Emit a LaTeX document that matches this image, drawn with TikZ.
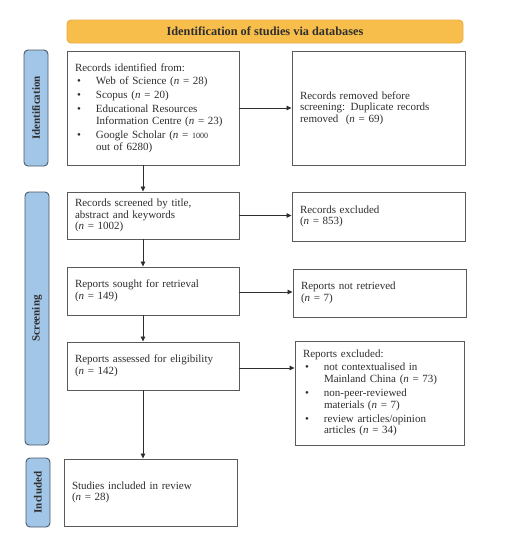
\documentclass[tikz,border=0pt]{standalone}
\usepackage{fontspec}
\setmainfont{Liberation Serif}
\usetikzlibrary{arrows.meta}
\setlength\parindent{0pt}
\definecolor{txt}{HTML}{2E2E2E}
\definecolor{edge}{HTML}{5A5A5A}
\definecolor{bannerfill}{HTML}{F8BE4C}
\definecolor{banneredge}{HTML}{E9AC45}
\definecolor{sidefill}{HTML}{A2C6E8}
\definecolor{sideedge}{HTML}{4A5868}
\newcommand\bul[1]{{\hangindent=21pt\hangafter=1\hspace*{2pt}\makebox[19pt][l]{\textbullet}#1\par}}
\tikzset{
  box/.style={draw=edge, line width=0.9pt, fill=white, text=txt, align=left,
    inner xsep=8pt, inner ysep=2pt, font=\fontsize{11}{11.6}\selectfont},
  sidelab/.style={draw=sideedge, line width=0.9pt, fill=sidefill, rounded corners=4pt,
    text=txt, font=\fontsize{11}{12}\selectfont\bfseries},
  arr/.style={draw=txt, line width=0.8pt, -{Triangle[length=5pt,width=4.5pt]}},
}
\begin{document}
\begin{tikzpicture}[x=1pt,y=-1pt]
\useasboundingbox (0,0) rectangle (506,550);
% banner
\node[draw=banneredge, line width=0.9pt, fill=bannerfill, rounded corners=4pt,
  minimum width=396pt, minimum height=23pt, text=txt,
  font=\fontsize{12.3}{14}\selectfont\bfseries] (banner) at (265,31.5)
  {Identification of studies via databases};
% side labels
\node[sidelab, minimum width=116pt, minimum height=24pt, rotate=90] (sid) at (36,108) {Identification};
\node[sidelab, minimum width=253pt, minimum height=24pt, rotate=90] (sscr) at (37,318.5) {Screening};
\node[sidelab, minimum width=69pt, minimum height=24pt, rotate=90] (sinc) at (38,492.5) {Included};
% boxes
\node[box, minimum height=114pt, text width=156pt] (b1) at (153,108) {%
Records identified from:\par\vspace{1.5pt}
\bul{Web of Science (\textit{n} = 28)}\vspace{2.5pt}
\bul{Scopus (\textit{n} = 20)}\vspace{2.5pt}
\bul{Educational Resources\newline Information Centre (\textit{n} = 23)}\vspace{2.5pt}
\bul{Google Scholar (\textit{n} = {\fontsize{8}{10}\selectfont 1000}\newline out of 6280)}};
\node[box, minimum height=114pt, text width=157pt] (b2) at (378.5,108) {%
Records removed before\newline screening: Duplicate records\newline removed~ (\textit{n} = 69)};
\node[box, minimum height=47pt, text width=156pt] (b3) at (153,215.5) {%
Records screened by title,\newline abstract and keywords\newline (\textit{n} = 1002)};
\node[box, minimum height=49pt, text width=157pt] (b4) at (378.5,216.5) {%
Records excluded\newline (\textit{n} = 853)};
\node[box, minimum height=48pt, text width=156pt] (b5) at (153,291) {%
Reports sought for retrieval\newline (\textit{n} = 149)};
\node[box, minimum height=48pt, text width=157pt] (b6) at (379.5,293) {%
Reports not retrieved\newline (\textit{n} = 7)};
\node[box, minimum height=48pt, text width=156pt] (b7) at (153,366) {%
Reports assessed for eligibility\newline (\textit{n} = 142)};
\node[box, minimum height=104pt, text width=153pt] (b8) at (379.5,393) {%
Reports excluded:\par\vspace{2pt}
\bul{not contextualised in\newline Mainland China (\textit{n} = 73)}\vspace{2.5pt}
\bul{non-peer-reviewed\newline materials (\textit{n} = 7)}\vspace{2.5pt}
\bul{review articles/opinion\newline articles (\textit{n} = 34)}};
\node[box, minimum height=67pt, text width=157pt] (b9) at (150.5,492.5) {%
Studies included in review\newline (\textit{n} = 28)};
% connectors
\coordinate (ax) at (143,0);
\draw[arr] (b1.south -| ax) -- (b3.north -| ax);
\draw[arr] (b3.south -| ax) -- (b5.north -| ax);
\draw[arr] (b5.south -| ax) -- (b7.north -| ax);
\draw[arr] (b7.south -| ax) -- (b9.north -| ax);
\draw[arr] (b1.east) -- (b1.east -| b2.west);
\draw[arr] (b3.east) -- (b3.east -| b4.west);
\draw[arr] ([yshift=-1pt]b5.east) -- ([yshift=-1pt]b5.east -| b6.west);
\draw[arr] ([yshift=-2pt]b7.east) -- ([yshift=-2pt]b7.east -| b8.west);
\end{tikzpicture}
\end{document}
